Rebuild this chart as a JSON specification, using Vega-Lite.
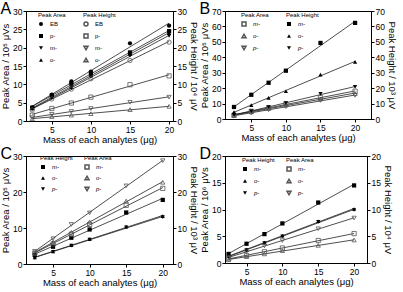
{
"$schema":"https://vega.github.io/schema/vega-lite/v6.json",
"padding":0,
"spacing":0,
"config":{
 "font":"Liberation Sans",
 "view":{"stroke":"black","strokeWidth":1},
 "axis":{"grid":false,"domainColor":"black","tickColor":"black","tickSize":3,"labelFontSize":8.5,"titleFontSize":9.5,"titleFontWeight":"normal","labelColor":"black","titleColor":"black","labelPadding":1,"titlePadding":2,"labelFont":"Liberation Sans","titleFont":"Liberation Sans"},
 "axisX":{"titlePadding":1},
 "legend":{"titleFontSize":6,"labelFontSize":6,"titleFontWeight":"normal","symbolSize":16,"rowPadding":2,"titlePadding":3,"labelOffset":6,"padding":0,"labelFont":"Liberation Sans","titleFont":"Liberation Sans","titleColor":"black","labelColor":"black"},
 "title":{"fontSize":16,"fontWeight":"normal","anchor":"start","frame":"bounds","font":"Liberation Sans","offset":-10}
},
"datasets":{"pts":[
{"p":"A","m":"Area","s":"EB","x":2.5,"y":3.7},{"p":"A","m":"Area","s":"EB","x":5,"y":7.2},{"p":"A","m":"Area","s":"EB","x":7.5,"y":10.8},{"p":"A","m":"Area","s":"EB","x":10,"y":13.5},{"p":"A","m":"Area","s":"EB","x":15,"y":21.2},{"p":"A","m":"Area","s":"EB","x":20,"y":26.0},
{"p":"A","m":"Area","s":"p-","x":2.5,"y":3.6},{"p":"A","m":"Area","s":"p-","x":5,"y":7.0},{"p":"A","m":"Area","s":"p-","x":7.5,"y":10.2},{"p":"A","m":"Area","s":"p-","x":10,"y":13.1},{"p":"A","m":"Area","s":"p-","x":15,"y":18.7},{"p":"A","m":"Area","s":"p-","x":20,"y":24.5},
{"p":"A","m":"Area","s":"m-","x":2.5,"y":3.2},{"p":"A","m":"Area","s":"m-","x":5,"y":6.3},{"p":"A","m":"Area","s":"m-","x":7.5,"y":9.0},{"p":"A","m":"Area","s":"m-","x":10,"y":12.0},{"p":"A","m":"Area","s":"m-","x":15,"y":17.8},{"p":"A","m":"Area","s":"m-","x":20,"y":23.2},
{"p":"A","m":"Area","s":"o-","x":2.5,"y":3.4},{"p":"A","m":"Area","s":"o-","x":5,"y":6.6},{"p":"A","m":"Area","s":"o-","x":7.5,"y":9.3},{"p":"A","m":"Area","s":"o-","x":10,"y":12.5},{"p":"A","m":"Area","s":"o-","x":15,"y":18.3},{"p":"A","m":"Area","s":"o-","x":20,"y":24.0},
{"p":"A","m":"Height","s":"EB","x":2.5,"y":3.0},{"p":"A","m":"Height","s":"EB","x":5,"y":6.0},{"p":"A","m":"Height","s":"EB","x":7.5,"y":8.7},{"p":"A","m":"Height","s":"EB","x":10,"y":11.5},{"p":"A","m":"Height","s":"EB","x":15,"y":16.5},{"p":"A","m":"Height","s":"EB","x":20,"y":21.5},
{"p":"A","m":"Height","s":"p-","x":2.5,"y":1.6},{"p":"A","m":"Height","s":"p-","x":5,"y":3.4},{"p":"A","m":"Height","s":"p-","x":7.5,"y":4.9},{"p":"A","m":"Height","s":"p-","x":10,"y":6.5},{"p":"A","m":"Height","s":"p-","x":15,"y":9.9},{"p":"A","m":"Height","s":"p-","x":20,"y":12.3},
{"p":"A","m":"Height","s":"m-","x":2.5,"y":0.9},{"p":"A","m":"Height","s":"m-","x":5,"y":1.8},{"p":"A","m":"Height","s":"m-","x":7.5,"y":2.6},{"p":"A","m":"Height","s":"m-","x":10,"y":3.4},{"p":"A","m":"Height","s":"m-","x":15,"y":5.1},{"p":"A","m":"Height","s":"m-","x":20,"y":6.5},
{"p":"A","m":"Height","s":"o-","x":2.5,"y":0.6},{"p":"A","m":"Height","s":"o-","x":5,"y":1.2},{"p":"A","m":"Height","s":"o-","x":7.5,"y":1.6},{"p":"A","m":"Height","s":"o-","x":10,"y":2.0},{"p":"A","m":"Height","s":"o-","x":15,"y":3.1},{"p":"A","m":"Height","s":"o-","x":20,"y":4.0},
{"p":"B","m":"Height","s":"m-","x":2.5,"y":7.8},{"p":"B","m":"Height","s":"m-","x":5,"y":15.7},{"p":"B","m":"Height","s":"m-","x":7.5,"y":23.5},{"p":"B","m":"Height","s":"m-","x":10,"y":31.3},{"p":"B","m":"Height","s":"m-","x":15,"y":49.3},{"p":"B","m":"Height","s":"m-","x":20,"y":62.3},
{"p":"B","m":"Height","s":"o-","x":2.5,"y":4.5},{"p":"B","m":"Height","s":"o-","x":5,"y":9.0},{"p":"B","m":"Height","s":"o-","x":7.5,"y":13.7},{"p":"B","m":"Height","s":"o-","x":10,"y":18.0},{"p":"B","m":"Height","s":"o-","x":15,"y":28.8},{"p":"B","m":"Height","s":"o-","x":20,"y":37.0},
{"p":"B","m":"Height","s":"p-","x":2.5,"y":2.6},{"p":"B","m":"Height","s":"p-","x":5,"y":5.2},{"p":"B","m":"Height","s":"p-","x":7.5,"y":7.8},{"p":"B","m":"Height","s":"p-","x":10,"y":10.3},{"p":"B","m":"Height","s":"p-","x":15,"y":16.3},{"p":"B","m":"Height","s":"p-","x":20,"y":20.8},
{"p":"B","m":"Area","s":"m-","x":2.5,"y":2.5},{"p":"B","m":"Area","s":"m-","x":5,"y":5.0},{"p":"B","m":"Area","s":"m-","x":7.5,"y":7.3},{"p":"B","m":"Area","s":"m-","x":10,"y":9.8},{"p":"B","m":"Area","s":"m-","x":15,"y":13.8},{"p":"B","m":"Area","s":"m-","x":20,"y":18.0},
{"p":"B","m":"Area","s":"o-","x":2.5,"y":2.3},{"p":"B","m":"Area","s":"o-","x":5,"y":4.6},{"p":"B","m":"Area","s":"o-","x":7.5,"y":6.8},{"p":"B","m":"Area","s":"o-","x":10,"y":9.0},{"p":"B","m":"Area","s":"o-","x":15,"y":13.0},{"p":"B","m":"Area","s":"o-","x":20,"y":16.5},
{"p":"B","m":"Area","s":"p-","x":2.5,"y":2.0},{"p":"B","m":"Area","s":"p-","x":5,"y":4.0},{"p":"B","m":"Area","s":"p-","x":7.5,"y":6.0},{"p":"B","m":"Area","s":"p-","x":10,"y":8.0},{"p":"B","m":"Area","s":"p-","x":15,"y":12.0},{"p":"B","m":"Area","s":"p-","x":20,"y":15.3},
{"p":"C","m":"Height","s":"m-","x":2.5,"y":2.5},{"p":"C","m":"Height","s":"m-","x":5,"y":4.8},{"p":"C","m":"Height","s":"m-","x":7.5,"y":7.3},{"p":"C","m":"Height","s":"m-","x":10,"y":9.6},{"p":"C","m":"Height","s":"m-","x":15,"y":14.3},{"p":"C","m":"Height","s":"m-","x":20,"y":17.8},
{"p":"C","m":"Height","s":"o-","x":2.5,"y":1.8},{"p":"C","m":"Height","s":"o-","x":5,"y":3.5},{"p":"C","m":"Height","s":"o-","x":7.5,"y":5.2},{"p":"C","m":"Height","s":"o-","x":10,"y":6.9},{"p":"C","m":"Height","s":"o-","x":15,"y":10.4},{"p":"C","m":"Height","s":"o-","x":20,"y":13.3},
{"p":"C","m":"Height","s":"p-","x":2.5,"y":1.7},{"p":"C","m":"Height","s":"p-","x":5,"y":3.4},{"p":"C","m":"Height","s":"p-","x":7.5,"y":5.1},{"p":"C","m":"Height","s":"p-","x":10,"y":6.8},{"p":"C","m":"Height","s":"p-","x":15,"y":10.2},{"p":"C","m":"Height","s":"p-","x":20,"y":13.0},
{"p":"C","m":"Area","s":"m-","x":2.5,"y":3.0},{"p":"C","m":"Area","s":"m-","x":5,"y":5.6},{"p":"C","m":"Area","s":"m-","x":7.5,"y":8.3},{"p":"C","m":"Area","s":"m-","x":10,"y":11.0},{"p":"C","m":"Area","s":"m-","x":15,"y":16.3},{"p":"C","m":"Area","s":"m-","x":20,"y":21.0},
{"p":"C","m":"Area","s":"o-","x":2.5,"y":3.2},{"p":"C","m":"Area","s":"o-","x":5,"y":6.0},{"p":"C","m":"Area","s":"o-","x":7.5,"y":8.8},{"p":"C","m":"Area","s":"o-","x":10,"y":11.7},{"p":"C","m":"Area","s":"o-","x":15,"y":17.5},{"p":"C","m":"Area","s":"o-","x":20,"y":22.7},
{"p":"C","m":"Area","s":"p-","x":2.5,"y":3.5},{"p":"C","m":"Area","s":"p-","x":5,"y":7.0},{"p":"C","m":"Area","s":"p-","x":7.5,"y":11.0},{"p":"C","m":"Area","s":"p-","x":10,"y":14.2},{"p":"C","m":"Area","s":"p-","x":15,"y":21.7},{"p":"C","m":"Area","s":"p-","x":20,"y":28.7},
{"p":"D","m":"Height","s":"m-","x":2.5,"y":1.7},{"p":"D","m":"Height","s":"m-","x":5,"y":3.6},{"p":"D","m":"Height","s":"m-","x":7.5,"y":5.4},{"p":"D","m":"Height","s":"m-","x":10,"y":7.4},{"p":"D","m":"Height","s":"m-","x":15,"y":11.3},{"p":"D","m":"Height","s":"m-","x":20,"y":14.5},
{"p":"D","m":"Height","s":"o-","x":2.5,"y":1.3},{"p":"D","m":"Height","s":"o-","x":5,"y":2.5},{"p":"D","m":"Height","s":"o-","x":7.5,"y":3.8},{"p":"D","m":"Height","s":"o-","x":10,"y":5.1},{"p":"D","m":"Height","s":"o-","x":15,"y":7.8},{"p":"D","m":"Height","s":"o-","x":20,"y":10.1},
{"p":"D","m":"Height","s":"p-","x":2.5,"y":1.2},{"p":"D","m":"Height","s":"p-","x":5,"y":2.4},{"p":"D","m":"Height","s":"p-","x":7.5,"y":3.7},{"p":"D","m":"Height","s":"p-","x":10,"y":5.0},{"p":"D","m":"Height","s":"p-","x":15,"y":7.7},{"p":"D","m":"Height","s":"p-","x":20,"y":9.9},
{"p":"D","m":"Area","s":"m-","x":2.5,"y":0.8},{"p":"D","m":"Area","s":"m-","x":5,"y":1.4},{"p":"D","m":"Area","s":"m-","x":7.5,"y":2.1},{"p":"D","m":"Area","s":"m-","x":10,"y":2.8},{"p":"D","m":"Area","s":"m-","x":15,"y":4.2},{"p":"D","m":"Area","s":"m-","x":20,"y":5.5},
{"p":"D","m":"Area","s":"o-","x":2.5,"y":0.6},{"p":"D","m":"Area","s":"o-","x":5,"y":1.2},{"p":"D","m":"Area","s":"o-","x":7.5,"y":1.7},{"p":"D","m":"Area","s":"o-","x":10,"y":2.3},{"p":"D","m":"Area","s":"o-","x":15,"y":3.3},{"p":"D","m":"Area","s":"o-","x":20,"y":4.3},
{"p":"D","m":"Area","s":"p-","x":2.5,"y":1.0},{"p":"D","m":"Area","s":"p-","x":5,"y":2.1},{"p":"D","m":"Area","s":"p-","x":7.5,"y":3.2},{"p":"D","m":"Area","s":"p-","x":10,"y":4.2},{"p":"D","m":"Area","s":"p-","x":15,"y":6.4},{"p":"D","m":"Area","s":"p-","x":20,"y":8.4}
]},
"vconcat":[
{"spacing":0,"hconcat":[
 {"width":147,"height":110,"title":{"text":"A"},"data":{"name":"pts"},
  "transform":[{"filter":"datum.p=='A'"}],
  "layer":[
   {"transform":[{"regression":"y","on":"x","groupby":["m","s"]}],
    "mark":{"type":"line","color":"#222","strokeWidth":0.8},
    "encoding":{"x":{"field":"x","type":"quantitative","scale":{"domain":[1.7,20.5],"nice":false,"zero":false},"axis":{"values":[5,10,15,20],"title":"Mass of each analytes (μg)"}},
     "y":{"field":"y","type":"quantitative","scale":{"domain":[0,30],"nice":false},"axis":{"orient":"left","values":[0,5,10,15,20,25,30],"title":"Peak Area / 10⁵ μVs"}},
     "detail":[{"field":"m"},{"field":"s"}]}},
   {"transform":[{"filter":"datum.m=='Area'"}],
    "mark":{"type":"point","filled":true,"color":"black","size":18,"opacity":1},
    "encoding":{"x":{"field":"x","type":"quantitative"},
     "y":{"field":"y","type":"quantitative","axis":{"orient":"right","values":[0,5,10,15,20,25,30],"title":"Peak Height / 10⁴ μV"}},
     "shape":{"field":"s","type":"nominal","scale":{"domain":["EB","p-","m-","o-"],"range":["circle","square","triangle-down","triangle-up"]},
      "legend":{"title":"Peak Area","orient":"none","legendX":12,"legendY":1,"encode":{"symbols":{"update":{"fill":{"value":"black"},"stroke":{"value":"black"},"opacity":{"value":1}}},"labels":{"update":{"fill":{"value":"black"},"fontStyle":{"signal":"datum.label=='EB'?'normal':'italic'"}}}}}}}},
   {"transform":[{"filter":"datum.m=='Height'"}],
    "mark":{"type":"point","filled":false,"color":"#555","size":18,"strokeWidth":0.8,"opacity":1},
    "encoding":{"x":{"field":"x","type":"quantitative"},
     "y":{"field":"y","type":"quantitative","axis":null},
     "shape":{"field":"s","type":"nominal","scale":{"domain":["EB","p-","m-","o-"],"range":["circle","square","triangle-down","triangle-up"]},
      "legend":{"title":"Peak Height","orient":"none","legendX":57,"legendY":1,"encode":{"symbols":{"update":{"fill":{"value":"transparent"},"stroke":{"value":"#555"},"strokeWidth":{"value":0.8},"opacity":{"value":1}}},"labels":{"update":{"fill":{"value":"black"},"fontStyle":{"signal":"datum.label=='EB'?'normal':'italic'"}}}}}}}}
  ],
  "resolve":{"scale":{"shape":"independent"},"axis":{"y":"independent"}}},
 {"width":146,"height":108,"title":{"text":"B"},"data":{"name":"pts"},
  "transform":[{"filter":"datum.p=='B'"}],
  "layer":[
   {"transform":[{"regression":"y","on":"x","groupby":["m","s"]}],
    "mark":{"type":"line","color":"#222","strokeWidth":0.8},
    "encoding":{"x":{"field":"x","type":"quantitative","scale":{"domain":[1.2,22.3],"nice":false,"zero":false},"axis":{"values":[5,10,15,20],"title":"Mass of each analytes (μg)"}},
     "y":{"field":"y","type":"quantitative","scale":{"domain":[0,70],"nice":false},"axis":{"orient":"left","values":[0,10,20,30,40,50,60,70],"title":"Peak Area / 10⁵ μVs"}},
     "detail":[{"field":"m"},{"field":"s"}]}},
   {"transform":[{"filter":"datum.m=='Area'"}],
    "mark":{"type":"point","filled":false,"color":"#555","size":18,"strokeWidth":0.8,"opacity":1},
    "encoding":{"x":{"field":"x","type":"quantitative"},
     "y":{"field":"y","type":"quantitative","axis":{"orient":"right","values":[0,10,20,30,40,50,60,70],"title":"Peak Height / 10³ μV"}},
     "shape":{"field":"s","type":"nominal","scale":{"domain":["m-","o-","p-"],"range":["square","triangle-up","triangle-down"]},
      "legend":{"title":"Peak Area","orient":"none","legendX":16,"legendY":1,"labelFontStyle":"italic","encode":{"symbols":{"update":{"fill":{"value":"transparent"},"stroke":{"value":"#555"},"strokeWidth":{"value":0.8},"opacity":{"value":1}}},"labels":{"update":{"fill":{"value":"black"}}}}}}}},
   {"transform":[{"filter":"datum.m=='Height'"}],
    "mark":{"type":"point","filled":true,"color":"black","size":18,"opacity":1},
    "encoding":{"x":{"field":"x","type":"quantitative"},
     "y":{"field":"y","type":"quantitative","axis":null},
     "shape":{"field":"s","type":"nominal","scale":{"domain":["m-","o-","p-"],"range":["square","triangle-up","triangle-down"]},
      "legend":{"title":"Peak Height","orient":"none","legendX":61,"legendY":1,"labelFontStyle":"italic","encode":{"symbols":{"update":{"fill":{"value":"black"},"stroke":{"value":"black"},"opacity":{"value":1}}},"labels":{"update":{"fill":{"value":"black"}}}}}}}}
  ],
  "resolve":{"scale":{"shape":"independent"},"axis":{"y":"independent"}}}
]},
{"spacing":0,"hconcat":[
 {"width":147,"height":108,"title":{"text":"C"},"data":{"name":"pts"},
  "transform":[{"filter":"datum.p=='C'"}],
  "layer":[
   {"transform":[{"regression":"y","on":"x","groupby":["m","s"]}],
    "mark":{"type":"line","color":"#222","strokeWidth":0.8},
    "encoding":{"x":{"field":"x","type":"quantitative","scale":{"domain":[1.3,21.4],"nice":false,"zero":false},"axis":{"values":[5,10,15,20],"title":"Mass of each analytes (μg)"}},
     "y":{"field":"y","type":"quantitative","scale":{"domain":[0,30],"nice":false},"axis":{"orient":"left","values":[0,10,20,30],"title":"Peak Area / 10⁵ μVs"}},
     "detail":[{"field":"m"},{"field":"s"}]}},
   {"transform":[{"filter":"datum.m=='Height'"}],
    "mark":{"type":"point","filled":true,"color":"black","size":18,"opacity":1},
    "encoding":{"x":{"field":"x","type":"quantitative"},
     "y":{"field":"y","type":"quantitative","axis":{"orient":"right","values":[0,10,20,30],"title":"Peak Height / 10³ μV"}},
     "shape":{"field":"s","type":"nominal","scale":{"domain":["m-","o-","p-"],"range":["square","triangle-up","triangle-down"]},
      "legend":{"title":"Peak Height","orient":"none","legendX":14,"legendY":-1,"labelFontStyle":"italic","rowPadding":1,"encode":{"symbols":{"update":{"fill":{"value":"black"},"stroke":{"value":"black"},"opacity":{"value":1}}},"labels":{"update":{"fill":{"value":"black"}}}}}}}},
   {"transform":[{"filter":"datum.m=='Area'"}],
    "mark":{"type":"point","filled":false,"color":"#555","size":18,"strokeWidth":0.8,"opacity":1},
    "encoding":{"x":{"field":"x","type":"quantitative"},
     "y":{"field":"y","type":"quantitative","axis":null},
     "shape":{"field":"s","type":"nominal","scale":{"domain":["m-","o-","p-"],"range":["square","triangle-up","triangle-down"]},
      "legend":{"title":"Peak Area","orient":"none","legendX":58,"legendY":-1,"labelFontStyle":"italic","rowPadding":1,"encode":{"symbols":{"update":{"fill":{"value":"transparent"},"stroke":{"value":"#555"},"strokeWidth":{"value":0.8},"opacity":{"value":1}}},"labels":{"update":{"fill":{"value":"black"}}}}}}}}
  ],
  "resolve":{"scale":{"shape":"independent"},"axis":{"y":"independent"}}},
 {"width":142,"height":107,"title":{"text":"D"},"data":{"name":"pts"},
  "transform":[{"filter":"datum.p=='D'"}],
  "layer":[
   {"transform":[{"regression":"y","on":"x","groupby":["m","s"]}],
    "mark":{"type":"line","color":"#222","strokeWidth":0.8},
    "encoding":{"x":{"field":"x","type":"quantitative","scale":{"domain":[2.0,21.8],"nice":false,"zero":false},"axis":{"values":[5,10,15,20],"title":"Mass of each analytes (μg)"}},
     "y":{"field":"y","type":"quantitative","scale":{"domain":[0,20],"nice":false},"axis":{"orient":"left","values":[0,5,10,15,20],"title":"Peak Area / 10⁶ μVs"}},
     "detail":[{"field":"m"},{"field":"s"}]}},
   {"transform":[{"filter":"datum.m=='Height'"}],
    "mark":{"type":"point","filled":true,"color":"black","size":18,"opacity":1},
    "encoding":{"x":{"field":"x","type":"quantitative"},
     "y":{"field":"y","type":"quantitative","axis":{"orient":"right","values":[0,5,10,15,20],"title":"Peak Height / 10⁴ μV"}},
     "shape":{"field":"s","type":"nominal","scale":{"domain":["m-","o-","p-"],"range":["square","triangle-up","triangle-down"]},
      "legend":{"title":"Peak Height","orient":"none","legendX":17,"legendY":1,"labelFontStyle":"italic","encode":{"symbols":{"update":{"fill":{"value":"black"},"stroke":{"value":"black"},"opacity":{"value":1}}},"labels":{"update":{"fill":{"value":"black"}}}}}}}},
   {"transform":[{"filter":"datum.m=='Area'"}],
    "mark":{"type":"point","filled":false,"color":"#555","size":18,"strokeWidth":0.8,"opacity":1},
    "encoding":{"x":{"field":"x","type":"quantitative"},
     "y":{"field":"y","type":"quantitative","axis":null},
     "shape":{"field":"s","type":"nominal","scale":{"domain":["m-","o-","p-"],"range":["square","triangle-up","triangle-down"]},
      "legend":{"title":"Peak Area","orient":"none","legendX":61,"legendY":1,"labelFontStyle":"italic","encode":{"symbols":{"update":{"fill":{"value":"transparent"},"stroke":{"value":"#555"},"strokeWidth":{"value":0.8},"opacity":{"value":1}}},"labels":{"update":{"fill":{"value":"black"}}}}}}}}
  ],
  "resolve":{"scale":{"shape":"independent"},"axis":{"y":"independent"}}}
]}
]
}
